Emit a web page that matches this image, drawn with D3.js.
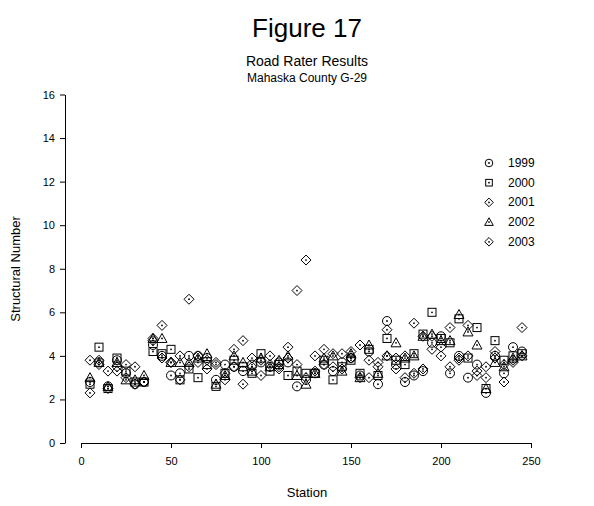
<!DOCTYPE html>
<html><head><meta charset="utf-8">
<script src="https://cdn.jsdelivr.net/npm/d3@7"></script>
<style>body{margin:0;background:#fff}svg{display:block}text{font-family:"Liberation Sans",Arial,sans-serif;fill:#000}</style>
</head><body><div id="chart"></div>
<script>
const stations = [5,10,15,20,25,30,35,40,45,50,55,60,65,70,75,80,85,90,95,100,105,110,115,120,125,130,135,140,145,150,155,160,165,170,175,180,185,190,195,200,205,210,215,220,225,230,235,240,245];
const y1999 = [2.8,3.7,2.6,3.8,3.2,2.7,2.8,4.5,4.0,3.1,3.2,4.0,4.0,3.9,2.9,3.6,3.5,3.3,3.6,3.7,3.5,3.7,3.7,2.6,2.9,3.2,3.6,3.3,3.7,3.9,3.1,4.2,2.7,5.6,3.6,2.8,3.1,3.3,4.6,4.9,3.2,4.0,3.0,3.6,2.3,4.0,3.2,4.4,4.2];
const y2000 = [2.7,4.4,2.5,3.9,3.3,2.8,2.8,4.2,4.1,4.3,2.9,3.4,3.0,3.6,2.6,3.2,3.8,3.5,3.2,4.1,3.3,3.6,3.1,3.3,3.2,3.2,3.8,2.9,3.5,3.8,3.2,4.3,3.1,4.8,3.8,3.6,4.1,5.0,6.0,4.8,4.6,5.7,3.9,5.3,2.5,4.7,3.8,4.0,4.1];
const y2001 = [3.8,3.8,3.3,3.3,3.6,3.5,2.8,4.7,5.4,3.7,2.9,6.6,4.0,3.4,3.6,2.9,4.3,4.7,3.9,3.1,3.6,3.5,4.4,7.0,8.4,4.0,4.3,3.5,4.1,4.2,4.5,3.8,3.5,5.2,3.9,3.0,5.5,4.9,4.9,4.4,5.3,3.9,5.4,3.3,3.0,4.2,2.8,3.8,5.3];
const y2002 = [3.0,3.7,2.6,3.7,2.9,2.9,3.1,4.8,4.8,3.7,3.7,3.7,3.9,4.1,2.7,3.1,4.0,3.7,3.3,3.9,3.5,3.8,4.0,3.1,2.7,3.2,3.9,4.0,3.3,4.1,3.0,4.5,3.2,4.0,4.6,3.9,4.0,4.9,5.0,4.7,4.7,5.9,5.1,4.5,2.5,3.7,3.5,3.9,4.0];
const y2003 = [2.3,3.6,2.5,3.5,3.0,2.7,2.8,4.8,3.9,3.7,4.0,3.5,3.7,3.8,3.7,3.2,3.5,2.7,3.5,3.8,4.0,3.4,3.9,3.6,3.0,3.3,3.6,4.1,3.4,3.9,3.0,3.0,3.7,4.0,3.4,4.0,3.2,3.4,4.3,4.0,3.5,3.8,4.0,3.1,3.5,3.9,3.6,3.7,4.0];
const seriesNames = ["1999","2000","2001","2002","2003"];
const seriesValues = [y1999,y2000,y2001,y2002,y2003];
const seriesShapes = ["circle","square","diamond","triangle","diamond"];
const xTicks = [0,50,100,150,200,250];
const yTicks = [0,2,4,6,8,10,12,14,16];

const W=594,H=506;
const svg=d3.select("#chart").append("svg").attr("width",W).attr("height",H);
const x=d3.scaleLinear().domain([0,250]).range([81,531]);
const y=d3.scaleLinear().domain([0,16]).range([443,94.5]);

svg.append("text").attr("x",307).attr("y",37).attr("text-anchor","middle").style("font-size","26px").text("Figure 17");
svg.append("text").attr("x",307).attr("y",66).attr("text-anchor","middle").style("font-size","14px").text("Road Rater Results");
svg.append("text").attr("x",307).attr("y",82).attr("text-anchor","middle").style("font-size","12px").text("Mahaska County G-29");

const ya=svg.append("g").attr("transform","translate(65,0)")
  .call(d3.axisLeft(y).tickValues(yTicks).tickSize(5).tickPadding(5).tickSizeOuter(0));
const xa=svg.append("g").attr("transform","translate(0,443)")
  .call(d3.axisBottom(x).tickValues(xTicks).tickSize(5).tickPadding(9).tickSizeOuter(0));
[ya,xa].forEach(a=>{a.selectAll("path,line").attr("stroke","#000");a.selectAll("text").style("font-size","11px").style("font-family","Liberation Sans, Arial, sans-serif");});

svg.append("text").attr("x",307).attr("y",497).attr("text-anchor","middle").style("font-size","13px").text("Station");
svg.append("text").attr("transform","translate(20,269) rotate(-90)").attr("text-anchor","middle").style("font-size","13px").text("Structural Number");

function marker(g,shape,r){
  if(shape==="circle") g.append("circle").attr("r",r);
  else if(shape==="square") g.append("rect").attr("x",-r+0.5).attr("y",-r+0.5).attr("width",2*r-1).attr("height",2*r-1);
  else if(shape==="diamond") g.append("path").attr("d",`M0,${-r-0.5}L${r+0.5},0L0,${r+0.5}L${-r-0.5},0Z`);
  else g.append("path").attr("d",`M0,${-r-0.5}L${r+0.5},${r-0.5}L${-r-0.5},${r-0.5}Z`);
  g.selectAll("circle,rect,path").attr("fill","none").attr("stroke","#000").attr("stroke-width",1);
  g.append("circle").attr("r",0.9).attr("fill","#000");
}
seriesValues.forEach((vals,i)=>{
  const g=svg.append("g");
  vals.forEach((v,j)=>{
    const m=g.append("g").attr("transform",`translate(${x(stations[j])},${y(v)})`);
    marker(m,seriesShapes[i],4.5);
  });
});
const lg=svg.append("g");
seriesNames.forEach((n,i)=>{
  const yy=163+i*19.7;
  marker(lg.append("g").attr("transform",`translate(489,${yy})`),seriesShapes[i],3.8);
  lg.append("text").attr("x",508).attr("y",yy+4).style("font-size","12px").text(n);
});
</script></body></html>
